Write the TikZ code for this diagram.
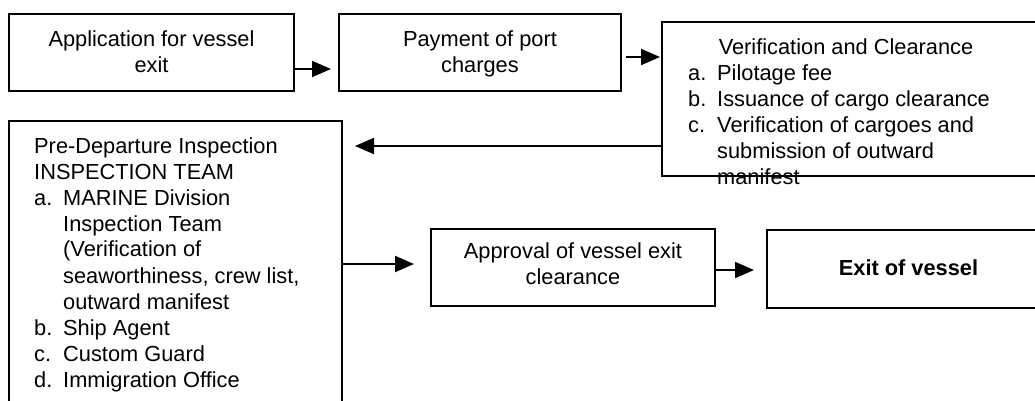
\documentclass[tikz,border=0pt]{standalone}
\usepackage{fontspec}
\setmainfont{Liberation Sans}
\usetikzlibrary{arrows.meta}
\newcommand{\lbl}[1]{\makebox[29pt][l]{#1}}
\newcommand{\ind}{\hspace*{29pt}}
\tikzset{
  box/.style={draw, line width=1.2pt, inner sep=0pt, rectangle},
  txt/.style={inner sep=0pt, anchor=base, font=\fontsize{21.8}{26}\selectfont},
  lst/.style={inner sep=0pt, anchor=base west, font=\fontsize{21.8}{26}\selectfont},
  arr/.style={line width=2pt, -{Triangle[length=19pt,width=16pt]}}
}
\begin{document}
\begin{tikzpicture}[x=1pt,y=-1pt]
\useasboundingbox (0,0) rectangle (1035,401);
\clip (0,0) rectangle (1035,401);
\fill[white] (0,0) rectangle (1035,401);
% boxes
\node[box, minimum width=285pt, minimum height=77pt] (b1) at (151.5,52.5) {};
\node[box, minimum width=282pt, minimum height=77pt] (b2) at (480,52.5) {};
\node[box, minimum width=390pt, minimum height=154pt] (b3) at (857,99) {};
\node[box, minimum width=333pt, minimum height=300pt] (b4) at (175.5,271) {};
\node[box, minimum width=284pt, minimum height=77pt] (b5) at (573,267.5) {};
\node[box, minimum width=290pt, minimum height=78pt] (b6) at (912,269) {};
% texts
\node[txt] (x1) at (151.5,46.5) {\begin{tabular}[t]{@{}c@{}}Application for vessel\\ exit\end{tabular}};
\node[txt] (x2) at (480,46.5) {\begin{tabular}[t]{@{}c@{}}Payment of port\\ charges\end{tabular}};
\node[txt] (x3) at (846,55) {Verification and Clearance};
\node[lst] (x3l) at (688,81) {\begin{tabular}[t]{@{}l@{}}\lbl{a.}Pilotage fee\\ \lbl{b.}Issuance of cargo clearance\\ \lbl{c.}Verification of cargoes and\\ \ind submission of outward\\ \ind manifest\end{tabular}};
\node[lst] (x4) at (34,153) {\begin{tabular}[t]{@{}l@{}}Pre-Departure Inspection\\ INSPECTION TEAM\\ \lbl{a.}MARINE Division\\ \ind Inspection Team\\ \ind (Verification of\\ \ind seaworthiness, crew list,\\ \ind outward manifest\\ \lbl{b.}Ship Agent\\ \lbl{c.}Custom Guard\\ \lbl{d.}Immigration Office\end{tabular}};
\node[txt] (x5) at (573,258) {\begin{tabular}[t]{@{}c@{}}Approval of vessel exit\\ clearance\end{tabular}};
\node[txt] (x6) at (908.5,275) {\bfseries Exit of vessel};
% connectors
\coordinate (t1) at (331,69);
\coordinate (t2) at (660,57);
\coordinate (t3) at (355,146);
\coordinate (t4) at (414,264);
\coordinate (t5) at (754,270);
\draw[arr] (b1.east |- t1) -- (t1);
\draw[arr] ([xshift=4pt]b2.east |- t2) -- (t2);
\draw[arr] (b3.west |- t3) -- (t3);
\draw[arr] (b4.east |- t4) -- (t4);
\draw[arr] (b5.east |- t5) -- (t5);
\end{tikzpicture}
\end{document}
